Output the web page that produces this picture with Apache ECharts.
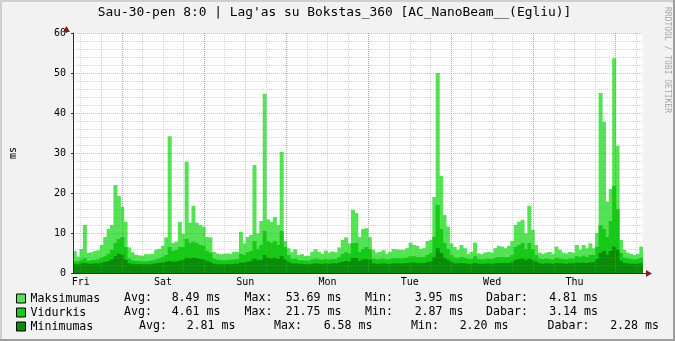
<!DOCTYPE html>
<html>
<head>
<meta charset="utf-8">
<script src="https://cdn.jsdelivr.net/npm/echarts@6/dist/echarts.min.js"></script>
<style>html,body{margin:0;padding:0;background:#F2F2F2;}#c{width:675px;height:341px;}</style>
</head>
<body>
<div id="c"></div>
<script>
// ---- DATA (hourly bins, starting Fri 08:00) ----
const titleText = "Sau-30-pen 8:0 | Lag'as su Bokstas_360 [AC_NanoBeam__(Egliu)]";
const dayLabels = ['Fri', 'Sat', 'Sun', 'Mon', 'Tue', 'Wed', 'Thu'];
const yTicks = [0, 10, 20, 30, 40, 50, 60];
const seriesNames = ['Maksimumas', 'Vidurkis', 'Minimumas'];

const maxVals = [
  5.5, 4.1, 6.0, 12.0, 5.0, 5.2, 5.5, 5.7, 7.0, 9.0, 11.0, 12.0, 22.0, 19.3, 16.6, 12.8, 6.4, 5.2, 4.6, 4.4, 4.3, 4.7, 4.7, 4.8,
  5.8, 6.0, 6.8, 8.9, 34.2, 7.5, 7.8, 12.8, 9.8, 27.8, 12.6, 16.8, 12.6, 12.0, 11.6, 9.0, 8.9, 5.3, 4.9, 4.7, 4.8, 4.9, 4.8, 5.3,
  5.3, 10.3, 7.4, 9.0, 9.5, 27.0, 9.9, 13.0, 44.8, 13.4, 12.8, 14.0, 12.0, 30.3, 8.0, 6.2, 5.2, 5.9, 4.5, 4.7, 4.3, 4.3, 5.3, 5.9,
  5.3, 4.8, 5.6, 5.1, 5.4, 5.2, 6.4, 8.3, 8.9, 7.4, 15.8, 15.0, 9.0, 11.0, 11.2, 9.0, 5.8, 5.1, 5.3, 5.7, 4.8, 5.3, 6.0, 5.9,
  5.8, 5.8, 6.2, 7.6, 7.0, 6.8, 6.0, 6.2, 8.0, 8.3, 19.0, 50.0, 24.3, 14.5, 11.6, 7.4, 6.5, 5.8, 7.0, 6.2, 4.8, 5.3, 7.6, 4.9,
  4.7, 5.1, 5.3, 5.1, 6.2, 6.8, 6.6, 6.2, 6.8, 8.0, 12.0, 12.8, 13.3, 9.9, 16.8, 10.8, 7.0, 5.1, 4.8, 5.1, 5.3, 4.8, 6.6, 5.8,
  5.1, 4.9, 5.3, 5.1, 7.0, 5.8, 7.0, 6.2, 7.4, 6.2, 10.0, 45.0, 37.8, 17.8, 21.0, 53.69, 31.8, 8.3, 5.8, 5.1, 4.8, 4.5, 4.8, 6.6
];
const avgVals = [
  3.0, 2.9, 3.3, 3.7, 3.0, 3.2, 3.3, 3.4, 3.9, 4.2, 4.8, 5.8, 7.5, 8.5, 9.0, 6.5, 3.6, 3.2, 3.0, 3.0, 2.9, 2.9, 3.0, 3.1,
  3.4, 3.6, 4.0, 4.5, 6.5, 5.5, 5.8, 6.5, 6.5, 8.5, 7.5, 7.8, 7.5, 7.0, 6.8, 5.5, 5.0, 3.6, 3.3, 3.2, 3.2, 3.2, 3.3, 3.4,
  3.5, 4.8, 4.5, 5.2, 5.5, 8.0, 6.0, 7.0, 10.5, 8.0, 7.5, 8.0, 7.0, 10.5, 6.5, 4.5, 3.5, 3.6, 3.2, 3.2, 3.1, 3.1, 3.4, 3.6,
  3.4, 3.3, 3.5, 3.4, 3.5, 3.5, 4.0, 4.8, 5.2, 4.8, 7.5, 7.5, 5.2, 6.0, 6.5, 6.0, 3.6, 3.4, 3.5, 3.6, 3.4, 3.5, 3.7, 3.7,
  3.6, 3.7, 3.8, 4.2, 4.2, 4.0, 3.9, 4.0, 4.5, 5.0, 9.0, 17.0, 11.0, 7.5, 6.0, 4.5, 3.8, 3.7, 4.0, 3.8, 3.5, 3.5, 4.2, 3.5,
  3.4, 3.5, 3.6, 3.5, 3.8, 4.0, 4.0, 3.9, 4.0, 4.5, 6.5, 7.0, 7.5, 6.0, 7.5, 6.0, 4.5, 3.6, 3.5, 3.6, 3.5, 3.4, 3.8, 3.6,
  3.5, 3.4, 3.6, 3.6, 4.2, 4.0, 4.3, 4.0, 4.5, 4.5, 6.5, 12.0, 11.0, 9.0, 13.0, 21.75, 16.0, 5.0, 3.8, 3.6, 3.5, 3.4, 3.5, 3.8
];
const minVals = [
  2.3, 2.2, 2.4, 2.5, 2.3, 2.3, 2.4, 2.4, 2.6, 2.8, 3.0, 3.4, 4.2, 4.8, 4.5, 3.3, 2.4, 2.3, 2.2, 2.2, 2.2, 2.2, 2.2, 2.3,
  2.4, 2.5, 2.6, 2.8, 3.0, 2.8, 2.9, 3.1, 3.3, 3.8, 3.6, 3.8, 3.7, 3.5, 3.4, 3.0, 2.7, 2.3, 2.2, 2.2, 2.2, 2.2, 2.2, 2.3,
  2.3, 2.6, 2.6, 2.8, 3.0, 3.6, 3.2, 3.3, 4.5, 3.8, 3.6, 3.8, 3.5, 4.2, 3.4, 2.8, 2.4, 2.4, 2.3, 2.3, 2.2, 2.2, 2.3, 2.4,
  2.3, 2.3, 2.4, 2.3, 2.4, 2.4, 2.6, 2.8, 3.0, 2.9, 3.8, 3.8, 3.0, 3.4, 3.5, 3.3, 2.4, 2.3, 2.3, 2.4, 2.3, 2.3, 2.4, 2.4,
  2.4, 2.4, 2.5, 2.6, 2.6, 2.5, 2.5, 2.5, 2.7, 2.9, 4.0, 6.2, 5.0, 3.8, 3.3, 2.8, 2.4, 2.4, 2.5, 2.4, 2.3, 2.3, 2.5, 2.3,
  2.3, 2.3, 2.4, 2.3, 2.4, 2.5, 2.5, 2.5, 2.5, 2.7, 3.3, 3.5, 3.6, 3.2, 3.6, 3.2, 2.8, 2.4, 2.3, 2.4, 2.4, 2.3, 2.5, 2.4,
  2.4, 2.3, 2.4, 2.4, 2.6, 2.5, 2.6, 2.5, 2.7, 2.7, 3.5, 5.0, 5.5, 4.5, 5.5, 6.58, 5.8, 3.0, 2.5, 2.4, 2.3, 2.3, 2.3, 2.4
];

// legend statistics (as printed)
const statAvg = [8.49, 4.61, 2.81];
const statMax = [53.69, 21.75, 6.58];
const statMin = [3.95, 2.87, 2.20];
const statCur = [4.81, 3.14, 2.28];

// ---- TIME FRAME ----
const startHour = 8;               // first bin starts Fri 08:00 (hours since Fri 00:00)
const nBins = maxVals.length;      // hourly bins
const categories = maxVals.map((_, i) => String((startHour + i) % 24));

// ---- STYLE / LAYOUT ----
const colors = ['#55E255', '#18C818', '#0A8C0A'];
const MONO = '"DejaVu Sans Mono", monospace';
const gridMinor = 'rgba(143,143,143,0.38)';
const gridMajor = 'rgba(222,79,79,0.45)';
const axisCol = '#303030';
const arrowCol = '#801F1F';
const G = { left: 67, top: 33, width: 576, height: 240 };
const pxH = G.width / nBins;
const hx = (h) => G.left + (h - startHour) * pxH;   // layout helper for helper grids

// helper grids used only to place time grid lines / labels with a clean tick origin
const minorFrom = 12, minorTo = 174;   // every 6 h
const majorFrom = 24, majorTo = 168;   // every 24 h (midnights)
const labelFrom = 12, labelTo = 156;   // noon of each day

const chart = echarts.init(document.getElementById('c'), null, { renderer: 'canvas', width: 675, height: 341 });

// legend stat layout
const rowY = [298, 312, 326];
const labelX = [[124, 244.5, 365, 486], [124, 244.5, 365, 486], [139, 274, 411, 547.6]];
const valueX = [[220.5, 341.5, 463.5, 598], [220.5, 341.5, 463.5, 598], [235.5, 372.5, 508.5, 659]];
const statLabels = ['Avg:', 'Max:', 'Min:', 'Dabar:'];
const statGraphics = [];
for (let r = 0; r < 3; r++) {
  const vals = [statAvg[r], statMax[r], statMin[r], statCur[r]];
  for (let f = 0; f < 4; f++) {
    statGraphics.push({ type: 'text', x: labelX[r][f], y: rowY[r], style: { text: statLabels[f], fontFamily: MONO, fontSize: 11.6, fill: '#000', align: 'left', verticalAlign: 'middle' } });
    statGraphics.push({ type: 'text', x: valueX[r][f], y: rowY[r], style: { text: vals[f].toFixed(2) + ' ms', fontFamily: MONO, fontSize: 11.6, fill: '#000', align: 'right', verticalAlign: 'middle' } });
  }
}

const hiddenY = (gi) => ({ gridIndex: gi, type: 'value', min: 0, max: 1, show: false });

const option = {
  backgroundColor: '#F2F2F2',
  animation: false,
  grid: [
    { left: G.left, top: G.top, width: G.width, height: G.height, show: true, backgroundColor: '#FFFFFF', borderWidth: 0 },
    { left: hx(minorFrom), top: G.top, width: hx(minorTo) - hx(minorFrom), height: G.height, show: false },
    { left: hx(majorFrom), top: G.top, width: hx(majorTo) - hx(majorFrom), height: G.height, show: false },
    { left: hx(labelFrom), top: G.top, width: hx(labelTo) - hx(labelFrom), height: G.height, show: false }
  ],
  legend: {
    data: seriesNames, orient: 'vertical', left: 16, top: 292.5, padding: 0, itemWidth: 9, itemHeight: 9, itemGap: 2,
    icon: 'rect', selectedMode: false, itemStyle: { borderColor: '#000', borderWidth: 1 },
    textStyle: { fontFamily: MONO, fontSize: 11.6, color: '#000', lineHeight: 11 }
  },
  xAxis: [{
    gridIndex: 0, type: 'category', data: categories, boundaryGap: true, z: 6,
    axisLine: { lineStyle: { color: axisCol, width: 1 } },
    axisTick: { show: false }, axisLabel: { show: false }, splitLine: { show: false }
  }, {
    gridIndex: 1, type: 'value', min: minorFrom, max: minorTo, interval: 6, z: 5,
    axisLine: { show: false }, axisTick: { show: false }, axisLabel: { show: false },
    splitLine: { show: true, lineStyle: { color: gridMinor, type: [1, 1], width: 1 } }
  }, {
    gridIndex: 2, type: 'value', min: majorFrom, max: majorTo, interval: 24, z: 5,
    axisLine: { show: false }, axisTick: { show: false }, axisLabel: { show: false },
    splitLine: { show: true, lineStyle: { color: gridMajor, type: [1, 1], width: 1 } }
  }, {
    gridIndex: 3, type: 'value', min: 0, max: labelTo - labelFrom, interval: 24, z: 5,
    axisLine: { show: false }, axisTick: { show: false }, splitLine: { show: false },
    axisLabel: { formatter: (v) => dayLabels[Math.round(v / 24)] || '', fontFamily: MONO, fontSize: 10, color: '#000', margin: 4, showMinLabel: true, showMaxLabel: true }
  }],
  yAxis: [{
    gridIndex: 0, type: 'value', min: yTicks[0], max: yTicks[yTicks.length - 1], interval: 10, z: 6,
    name: 'ms', nameLocation: 'middle', nameRotate: 90, nameGap: 55,
    nameTextStyle: { fontFamily: MONO, fontSize: 10, color: '#000' },
    axisLine: { show: true, lineStyle: { color: axisCol, width: 1 } },
    axisTick: { show: true, length: 2, lineStyle: { color: axisCol } },
    axisLabel: { fontFamily: MONO, fontSize: 10, color: '#000', margin: 7 },
    splitLine: { show: true, lineStyle: { color: gridMajor, type: [1, 1], width: 1 } },
    minorTick: { show: false, splitNumber: 5 },
    minorSplitLine: { show: true, lineStyle: { color: gridMinor, type: [1, 1], width: 1 } }
  }, hiddenY(1), hiddenY(2), hiddenY(3)],
  series: [
    { name: seriesNames[0], type: 'bar', data: maxVals, barGap: '-100%', barCategoryGap: '0%', barWidth: 4, itemStyle: { color: colors[0] }, z: 2 },
    { name: seriesNames[1], type: 'bar', data: avgVals, barGap: '-100%', barCategoryGap: '0%', barWidth: 4, itemStyle: { color: colors[1] }, z: 3 },
    { name: seriesNames[2], type: 'bar', data: minVals, barGap: '-100%', barCategoryGap: '0%', barWidth: 4, itemStyle: { color: colors[2] }, z: 4 }
  ],
  graphic: [
    { type: 'rect', shape: { x: 0, y: 0, width: 675, height: 2 }, style: { fill: '#CFCFCF' }, silent: true },
    { type: 'rect', shape: { x: 0, y: 0, width: 2, height: 341 }, style: { fill: '#CFCFCF' }, silent: true },
    { type: 'rect', shape: { x: 0, y: 339, width: 675, height: 2 }, style: { fill: '#9E9E9E' }, silent: true },
    { type: 'rect', shape: { x: 673, y: 0, width: 2, height: 341 }, style: { fill: '#9E9E9E' }, silent: true },
    { type: 'text', x: 334.5, y: 13, style: { text: titleText, fontFamily: MONO, fontSize: 12.9, fill: '#000', align: 'center', verticalAlign: 'middle' } },
    { type: 'text', x: 667, y: 60, rotation: -Math.PI / 2, style: { text: 'RRDTOOL / TOBI OETIKER', fontFamily: MONO, fontSize: 8, fill: '#A8A8A8', align: 'center', verticalAlign: 'middle' } },
    { type: 'line', shape: { x1: 643, y1: 273.5, x2: 647, y2: 273.5 }, style: { stroke: axisCol, lineWidth: 1 }, z: 10 },
    { type: 'polygon', shape: { points: [[646, 270], [652, 273.5], [646, 277]] }, style: { fill: arrowCol }, z: 10 },
    { type: 'line', shape: { x1: 66.5, y1: 33, x2: 66.5, y2: 30 }, style: { stroke: axisCol, lineWidth: 1 }, z: 10 },
    { type: 'polygon', shape: { points: [[63, 32], [66.5, 26], [70, 32]] }, style: { fill: arrowCol }, z: 10 }
  ].concat(statGraphics)
};
chart.setOption(option);
</script>
</body>
</html>
